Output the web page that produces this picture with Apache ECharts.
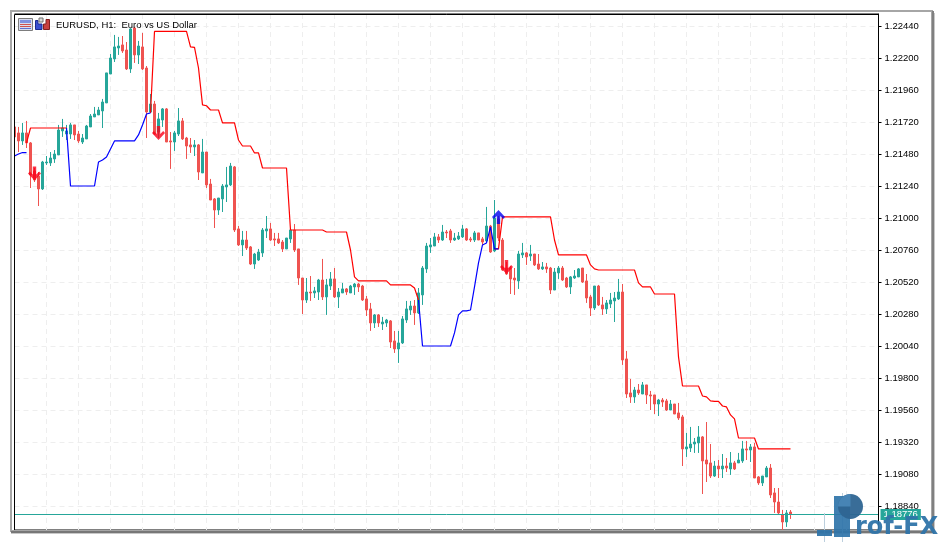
<!DOCTYPE html>
<html>
<head>
<meta charset="utf-8">
<style>html,body{margin:0;padding:0;background:#fff}#c{width:944px;height:542px}</style>
<script src="https://cdn.jsdelivr.net/npm/echarts@6/dist/echarts.min.js"></script>
</head>
<body>
<div id="c"></div>
<script>
var titleText = 'EURUSD, H1:  Euro vs US Dollar';
var priceTicks = [1.22440,1.22200,1.21960,1.21720,1.21480,1.21240,1.21000,1.20760,1.20520,1.20280,1.20040,1.19800,1.19560,1.19320,1.19080,1.18840];
var currentPrice = 1.18776;

var opens = [1.21683,1.21638,1.21578,1.21638,1.21563,1.21353,1.21315,1.21218,1.21413,1.21413,
1.21443,1.21473,1.21653,1.21630,1.21630,1.21698,1.21630,1.21570,1.21593,1.21683,
1.21758,1.21773,1.21803,1.21863,1.22080,1.22193,1.22275,1.22298,1.22260,1.22118,
1.22425,1.22223,1.22283,1.22125,1.21795,1.21855,1.21645,1.21735,1.21818,1.21578,
1.21570,1.21630,1.21728,1.21600,1.21548,1.21533,1.21548,1.21338,1.21495,1.21255,
1.21143,1.21060,1.21143,1.21233,1.21248,1.21383,1.20918,1.20798,1.20835,1.20783,
1.20655,1.20685,1.20738,1.20903,1.20918,1.20843,1.20843,1.20820,1.20768,1.20843,
1.20910,1.20768,1.20550,1.20385,1.20445,1.20438,1.20445,1.20535,1.20408,1.20490,
1.20543,1.20408,1.20438,1.20468,1.20438,1.20483,1.20505,1.20490,1.20393,1.20318,
1.20213,1.20273,1.20205,1.20213,1.20228,1.20078,1.20018,1.20063,1.20235,1.20310,
1.20340,1.20288,1.20423,1.20618,1.20783,1.20790,1.20858,1.20835,1.20895,1.20903,
1.20835,1.20843,1.20858,1.20918,1.20843,1.20835,1.20888,1.20843,1.20828,1.20940,
1.20753,1.20993,1.20835,1.20625,1.20625,1.20550,1.20528,1.20723,1.20738,1.20715,
1.20730,1.20655,1.20618,1.20633,1.20625,1.20460,1.20588,1.20625,1.20550,1.20483,
1.20550,1.20558,1.20625,1.20528,1.20408,1.20325,1.20490,1.20348,1.20318,1.20355,
1.20378,1.20393,1.20445,1.19943,1.19688,1.19658,1.19710,1.19680,1.19748,1.19673,
1.19673,1.19605,1.19635,1.19628,1.19560,1.19605,1.19538,1.19508,1.19268,1.19275,
1.19305,1.19313,1.19358,1.19185,1.19163,1.19065,1.19140,1.19118,1.19140,1.19118,
1.19163,1.19163,1.19178,1.19268,1.19260,1.19283,1.19058,1.19013,1.19058,1.19125,
1.18938,1.18870,1.18773,1.18720,1.18795];

var closes = [1.21608,1.21578,1.21638,1.21563,1.21323,1.21285,1.21218,1.21420,1.21420,1.21450,
1.21480,1.21660,1.21675,1.21653,1.21698,1.21623,1.21578,1.21600,1.21690,1.21765,
1.21780,1.21810,1.21870,1.22088,1.22200,1.22283,1.22290,1.22253,1.22118,1.22418,
1.22223,1.22290,1.22118,1.21795,1.21855,1.21630,1.21743,1.21818,1.21570,1.21570,
1.21638,1.21728,1.21593,1.21540,1.21533,1.21548,1.21345,1.21495,1.21248,1.21135,
1.21060,1.21150,1.21240,1.21248,1.21390,1.20910,1.20798,1.20835,1.20775,1.20655,
1.20730,1.20745,1.20910,1.20918,1.20835,1.20835,1.20813,1.20768,1.20850,1.20910,
1.20760,1.20550,1.20385,1.20445,1.20438,1.20453,1.20535,1.20408,1.20498,1.20543,
1.20408,1.20445,1.20468,1.20445,1.20490,1.20505,1.20483,1.20385,1.20310,1.20213,
1.20273,1.20213,1.20220,1.20235,1.20070,1.20018,1.20063,1.20243,1.20318,1.20340,
1.20288,1.20438,1.20625,1.20790,1.20798,1.20858,1.20835,1.20895,1.20888,1.20835,
1.20850,1.20865,1.20918,1.20835,1.20835,1.20888,1.20835,1.20820,1.20940,1.20745,
1.21000,1.20850,1.20610,1.20580,1.20543,1.20535,1.20730,1.20738,1.20708,1.20730,
1.20648,1.20618,1.20633,1.20618,1.20460,1.20595,1.20625,1.20535,1.20483,1.20558,
1.20565,1.20618,1.20520,1.20400,1.20325,1.20490,1.20348,1.20318,1.20363,1.20385,
1.20400,1.20445,1.19935,1.19680,1.19658,1.19710,1.19688,1.19748,1.19673,1.19665,
1.19605,1.19635,1.19620,1.19560,1.19605,1.19530,1.19500,1.19268,1.19283,1.19305,
1.19320,1.19358,1.19178,1.19155,1.19065,1.19140,1.19118,1.19140,1.19125,1.19163,
1.19118,1.19185,1.19268,1.19260,1.19283,1.19050,1.19013,1.19065,1.19125,1.18923,
1.18870,1.18788,1.18720,1.18788,1.18780];

var lows = [1.21563,1.21495,1.21548,1.21525,1.21225,1.21270,1.21090,1.21210,1.21398,1.21390,
1.21413,1.21473,1.21608,1.21585,1.21593,1.21585,1.21563,1.21555,1.21593,1.21683,
1.21758,1.21773,1.21675,1.21863,1.22080,1.22170,1.22223,1.22238,1.22110,1.22088,
1.22163,1.22155,1.22110,1.21600,1.21795,1.21623,1.21600,1.21683,1.21570,1.21368,
1.21503,1.21615,1.21585,1.21443,1.21488,1.21465,1.21285,1.21338,1.21225,1.21135,
1.20925,1.21023,1.21045,1.21120,1.21240,1.20895,1.20790,1.20715,1.20760,1.20648,
1.20618,1.20678,1.20708,1.20850,1.20828,1.20790,1.20805,1.20745,1.20768,1.20813,
1.20745,1.20498,1.20280,1.20363,1.20378,1.20400,1.20385,1.20385,1.20273,1.20460,
1.20400,1.20325,1.20438,1.20423,1.20438,1.20423,1.20445,1.20378,1.20265,1.20153,
1.20175,1.20183,1.20160,1.20183,1.20025,1.19988,1.19913,1.20055,1.20213,1.20273,
1.20198,1.20280,1.20348,1.20588,1.20738,1.20790,1.20813,1.20828,1.20850,1.20813,
1.20828,1.20835,1.20850,1.20828,1.20820,1.20820,1.20835,1.20798,1.20813,1.20738,
1.20745,1.20828,1.20603,1.20573,1.20430,1.20423,1.20468,1.20700,1.20648,1.20678,
1.20640,1.20610,1.20610,1.20588,1.20430,1.20460,1.20543,1.20528,1.20475,1.20430,
1.20543,1.20558,1.20513,1.20363,1.20265,1.20310,1.20340,1.20273,1.20280,1.20325,
1.20220,1.20385,1.19898,1.19650,1.19613,1.19613,1.19673,1.19680,1.19605,1.19560,
1.19530,1.19515,1.19583,1.19553,1.19560,1.19530,1.19485,1.19140,1.19208,1.19245,
1.19238,1.19238,1.18930,1.19020,1.19050,1.19058,1.19050,1.19050,1.19095,1.19073,
1.19110,1.19163,1.19163,1.19185,1.19170,1.19050,1.18998,1.18990,1.19058,1.18900,
1.18788,1.18780,1.18653,1.18683,1.18743];

var highs = [1.21698,1.21683,1.21713,1.21728,1.21570,1.21375,1.21345,1.21428,1.21465,1.21495,
1.21510,1.21698,1.21743,1.21698,1.21713,1.21698,1.21653,1.21630,1.21698,1.21780,
1.21833,1.21833,1.21893,1.22088,1.22230,1.22373,1.22358,1.22365,1.22320,1.22425,
1.22433,1.22328,1.22388,1.22140,1.21930,1.21878,1.21788,1.21825,1.21825,1.21645,
1.21653,1.21825,1.21750,1.21608,1.21600,1.21585,1.21555,1.21593,1.21495,1.21293,
1.21150,1.21150,1.21255,1.21383,1.21413,1.21390,1.20940,1.20903,1.20903,1.20790,
1.20738,1.20768,1.20925,1.21015,1.20963,1.20888,1.20888,1.20835,1.20850,1.20910,
1.20955,1.20768,1.20550,1.20550,1.20565,1.20483,1.20543,1.20693,1.20543,1.20595,
1.20625,1.20475,1.20513,1.20475,1.20498,1.20513,1.20513,1.20498,1.20415,1.20363,
1.20280,1.20280,1.20258,1.20243,1.20235,1.20153,1.20153,1.20265,1.20378,1.20378,
1.20385,1.20475,1.20640,1.20813,1.20850,1.20888,1.20880,1.20948,1.20910,1.20918,
1.20888,1.20895,1.20948,1.20925,1.20858,1.20903,1.20888,1.20858,1.21083,1.20948,
1.21135,1.21015,1.20850,1.20670,1.20640,1.20625,1.20753,1.20813,1.20745,1.20798,
1.20730,1.20730,1.20670,1.20663,1.20633,1.20625,1.20640,1.20640,1.20558,1.20565,
1.20610,1.20625,1.20625,1.20580,1.20423,1.20490,1.20498,1.20408,1.20385,1.20438,
1.20445,1.20543,1.20505,1.20003,1.19793,1.19733,1.19755,1.19770,1.19748,1.19703,
1.19673,1.19643,1.19650,1.19643,1.19635,1.19605,1.19613,1.19523,1.19388,1.19433,
1.19350,1.19440,1.19365,1.19470,1.19305,1.19178,1.19185,1.19230,1.19200,1.19245,
1.19178,1.19238,1.19328,1.19328,1.19305,1.19313,1.19065,1.19065,1.19140,1.19155,
1.18975,1.18975,1.18810,1.18810,1.18810];

var redLine = [null,null,null,1.21563,1.21675,1.21675,1.21675,1.21675,1.21675,1.21675,
1.21675,1.21675,1.21675,1.21675,null,null,null,null,null,null,
null,null,null,null,null,null,null,null,null,null,
null,null,null,null,1.21788,1.22399,1.22399,1.22399,1.22399,1.22399,
1.22399,1.22399,1.22399,1.22399,1.22283,1.22279,1.22125,1.21848,1.21842,1.21810,
1.21810,1.21810,1.21713,1.21713,1.21713,1.21713,1.21585,1.21540,1.21540,1.21540,
1.21488,1.21488,1.21375,1.21375,1.21375,1.21375,1.21375,1.21375,1.21375,1.20910,
1.20910,1.20910,1.20910,1.20910,1.20910,1.20910,1.20910,1.20910,1.20895,1.20895,
1.20895,1.20895,1.20895,1.20895,1.20760,1.20558,1.20528,1.20528,1.20528,1.20528,
1.20528,1.20528,1.20528,1.20528,1.20498,1.20498,1.20498,1.20498,1.20498,1.20498,
1.20475,1.20385,null,null,null,null,null,null,null,null,
null,null,null,null,null,null,null,null,null,null,
1.20768,1.20768,1.21008,1.21008,1.21008,1.21008,1.21008,1.21008,1.21008,1.21008,
1.21008,1.21008,1.21008,1.21008,1.21008,1.20835,1.20723,1.20723,1.20723,1.20723,
1.20723,1.20723,1.20723,1.20723,1.20648,1.20618,1.20610,1.20610,1.20610,1.20610,
1.20610,1.20610,1.20610,1.20610,1.20610,1.20610,1.20513,1.20483,1.20483,1.20483,
1.20430,1.20430,1.20430,1.20430,1.20430,1.20430,1.19958,1.19740,1.19740,1.19740,
1.19740,1.19740,1.19665,1.19658,1.19628,1.19624,1.19624,1.19590,1.19583,1.19523,
1.19493,1.19350,1.19350,1.19350,1.19350,1.19350,1.19268,1.19268,1.19268,1.19268,
1.19268,1.19268,1.19268,1.19268,1.19268];

var blueLine = [1.21465,1.21480,1.21491,1.21491,null,null,null,null,null,null,
null,null,null,1.21675,1.21240,1.21240,1.21240,1.21240,1.21240,1.21240,
1.21240,1.21420,1.21435,1.21458,1.21518,1.21578,1.21578,1.21578,1.21578,1.21578,
1.21578,1.21623,1.21698,1.21780,1.21788,null,null,null,null,null,
null,null,null,null,null,null,null,null,null,null,
null,null,null,null,null,null,null,null,null,null,
null,null,null,null,null,null,null,null,null,null,
null,null,null,null,null,null,null,null,null,null,
null,null,null,null,null,null,null,null,null,null,
null,null,null,null,null,null,null,null,null,null,
null,1.20385,1.20040,1.20040,1.20040,1.20040,1.20040,1.20040,1.20040,1.20040,
1.20138,1.20273,1.20303,1.20303,1.20310,1.20483,1.20663,1.20798,1.20813,1.20933,
1.20768,1.20768];

var sellArrowBars = [5, 36, 123];
var sellArrowPrices = [1.21334, 1.21637, 1.20632];
var buyArrowBars = [121];
var buyArrowPrices = [1.21008];

var teal = '#26a69a', red = '#ef5350';
var barCount = 217;
var categories = [];
for (var i = 0; i < barCount; i++) categories.push(i);

var candles = opens.map(function (o, i) { return [o, closes[i], lows[i], highs[i]]; });
var sellPoints = sellArrowBars.map(function (b, i) { return [b, sellArrowPrices[i]]; });
var buyPoints = buyArrowBars.map(function (b, i) { return [b, buyArrowPrices[i]]; });

var downArrow = 'path://M4.8 0H8.2V8L11.2 5L13 7L6.5 14L0 7L1.8 5L4.8 8Z';
var upArrow = 'path://M4.8 14H8.2V6L11.2 9L13 7L6.5 0L0 7L1.8 9L4.8 6Z';

var wm = '#2f74a9';
var chart = echarts.init(document.getElementById('c'), null, { renderer: 'canvas' });
chart.setOption({
  animation: false,
  backgroundColor: '#ffffff',
  title: {
    text: titleText, left: 56, top: 19, padding: 0,
    textStyle: { fontFamily: 'Liberation Sans', fontSize: 9.5, fontWeight: 'normal', color: '#000', lineHeight: 12 }
  },
  grid: { left: 14.5, top: 14, width: 864, height: 516, show: true, borderColor: '#000', borderWidth: 1, backgroundColor: '#fff' },
  xAxis: {
    type: 'category', data: categories, boundaryGap: false,
    axisLine: { show: false }, axisTick: { show: false }, axisLabel: { show: false },
    splitLine: { show: true, interval: 7, lineStyle: { color: '#eeeeee', type: [5, 4], width: 1 } }
  },
  yAxis: {
    type: 'value', position: 'right', min: 1.1866, max: 1.2253, scale: true,
    axisLine: { show: true, lineStyle: { color: '#000', width: 1 } },
    axisTick: { show: true, length: 3, lineStyle: { color: '#000' }, customValues: priceTicks },
    axisLabel: {
      show: true, customValues: priceTicks, margin: 6, color: '#000', padding: [1, 0, 0, 0],
      fontFamily: 'Liberation Sans', fontSize: 9.5,
      formatter: function (v) { return Number(v).toFixed(5); }
    },
    splitLine: { show: true, customValues: priceTicks, lineStyle: { color: '#eeeeee', type: [5, 4], width: 1 } }
  },
  series: [
    {
      type: 'candlestick', data: candles, barWidth: 3, clip: true, z: 3,
      itemStyle: { color: teal, color0: red, borderColor: teal, borderColor0: red, borderWidth: 1 },
      markLine: {
        silent: true, symbol: 'none', animation: false, z: 4, precision: 5,
        lineStyle: { color: teal, width: 1, type: 'solid' },
        label: {
          show: true, position: 'end', distance: 2, formatter: currentPrice.toFixed(5),
          color: '#fff', backgroundColor: teal, padding: [1, 3, 0, 3],
          fontFamily: 'Liberation Sans', fontSize: 9.5
        },
        data: [{ yAxis: currentPrice }]
      }
    },
    { type: 'line', data: redLine, showSymbol: false, connectNulls: false, z: 5, lineStyle: { color: '#ff0000', width: 1.2 }, itemStyle: { color: '#ff0000' } },
    { type: 'line', data: blueLine, showSymbol: false, connectNulls: false, z: 6, lineStyle: { color: '#0000ff', width: 1.2 }, itemStyle: { color: '#0000ff' } },
    { type: 'scatter', data: sellPoints, symbol: downArrow, symbolSize: [13, 14], z: 7, itemStyle: { color: '#fa0018' } },
    { type: 'scatter', data: buyPoints, symbol: upArrow, symbolSize: [13, 14], z: 7, itemStyle: { color: '#0000f0' } }
  ],
  graphic: { elements: [
    // plot frame above the grid lines
    { type: 'rect', silent: true, z: 48, shape: { x: 12, y: 13, width: 2, height: 518 }, style: { fill: '#fff' } },
    { type: 'rect', silent: true, z: 49, shape: { x: 14.5, y: 14.5, width: 864, height: 516 }, style: { fill: 'none', stroke: '#000', lineWidth: 1 } },
    // window frame
    { type: 'rect', silent: true, z: 50, shape: { x: 11, y: 11, width: 921, height: 520 }, style: { fill: 'none', stroke: '#a6a6a6', lineWidth: 2 } },
    { type: 'rect', silent: true, z: 51, shape: { x: 932, y: 11, width: 2, height: 522 }, style: { fill: '#808080' } },
    { type: 'rect', silent: true, z: 51, shape: { x: 934, y: 13, width: 1, height: 521 }, style: { fill: '#c8c8c8' } },
    { type: 'rect', silent: true, z: 51, shape: { x: 11, y: 531, width: 923, height: 2 }, style: { fill: '#777777' } },
    { type: 'rect', silent: true, z: 51, shape: { x: 11, y: 533, width: 924, height: 1 }, style: { fill: '#c8c8c8' } },
    // toolbar icons
    { type: 'rect', silent: true, z: 52, shape: { x: 18.5, y: 18.5, width: 14, height: 12 }, style: { fill: '#d9dcf0', stroke: '#7d7d7d', lineWidth: 1 } },
    { type: 'rect', silent: true, z: 52, shape: { x: 20, y: 20, width: 11, height: 3 }, style: { fill: '#7f8fe0' } },
    { type: 'rect', silent: true, z: 52, shape: { x: 20, y: 24, width: 11, height: 1 }, style: { fill: '#d05050' } },
    { type: 'rect', silent: true, z: 52, shape: { x: 20, y: 26, width: 11, height: 1 }, style: { fill: '#d05050' } },
    { type: 'rect', silent: true, z: 52, shape: { x: 20, y: 28, width: 11, height: 1 }, style: { fill: '#6070d0' } },
    { type: 'polygon', silent: true, z: 52, shape: { points: [[35.5, 20.5], [38, 20.5], [38, 24], [42, 24], [42, 29.5], [35.5, 29.5]] }, style: { fill: '#3a4fd0', stroke: '#1a2a90', lineWidth: 1 } },
    { type: 'polygon', silent: true, z: 52, shape: { points: [[43.5, 24], [46, 24], [46, 19.5], [49.5, 19.5], [49.5, 29.5], [43.5, 29.5]] }, style: { fill: '#c84040', stroke: '#802020', lineWidth: 1 } },
    { type: 'rect', silent: true, z: 52, shape: { x: 39, y: 18, width: 4, height: 4 }, style: { fill: '#d8d8d8', stroke: '#707070', lineWidth: 1 } },
    // watermark
    { type: 'rect', silent: true, z: 60, shape: { x: 824, y: 513, width: 1, height: 29 }, style: { fill: '#bccfdd' } },
    { type: 'rect', silent: true, z: 60, shape: { x: 842, y: 493, width: 1, height: 49 }, style: { fill: '#bccfdd' } },
    { type: 'rect', silent: true, z: 61, shape: { x: 817, y: 530, width: 15, height: 6 }, style: { fill: wm, opacity: 0.95 } },
    { type: 'rect', silent: true, z: 61, shape: { x: 834, y: 496, width: 16, height: 41 }, style: { fill: wm, opacity: 0.92 } },
    { type: 'circle', silent: true, z: 62, shape: { cx: 850.5, cy: 506.5, r: 12.5 }, style: { fill: '#2e6592', opacity: 0.95 } },
    { type: 'sector', silent: true, z: 63, shape: { cx: 850.5, cy: 506.5, r: 12.5, startAngle: Math.PI, endAngle: Math.PI * 1.5 }, style: { fill: '#4a87b8', opacity: 0.9 } },
    { type: 'text', silent: true, z: 64, style: { x: 855, y: 540, text: 'rof-FX', fill: wm, opacity: 0.95, font: 'bold 24px "DejaVu Sans"', textVerticalAlign: 'bottom', textBaseline: 'bottom' } }
  ] }
});
</script>
</body>
</html>
